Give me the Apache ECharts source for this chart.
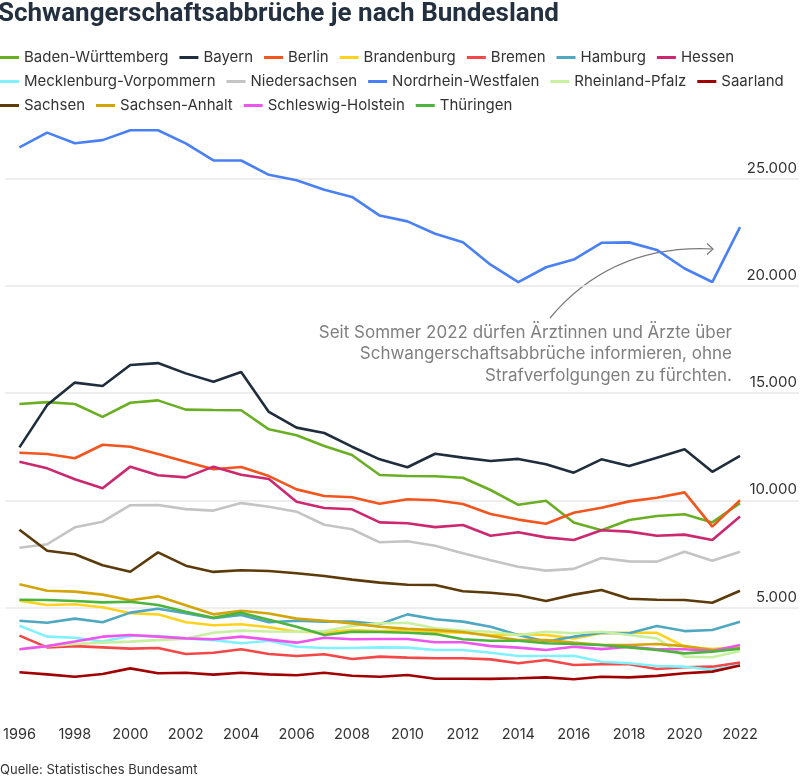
<!DOCTYPE html>
<html>
<head>
<meta charset="utf-8">
<script src="https://cdn.jsdelivr.net/npm/echarts@6/dist/echarts.min.js"></script>
<style>
html,body{margin:0;padding:0;background:#fff;}
#chart{width:800px;height:782px;}
</style>
</head>
<body>
<div id="chart"></div>
<script>
var years=['1996','1997','1998','1999','2000','2001','2002','2003','2004','2005','2006','2007','2008','2009','2010','2011','2012','2013','2014','2015','2016','2017','2018','2019','2020','2021','2022'];

var badenWuerttemberg=[14490,14580,14490,13890,14550,14660,14230,14210,14200,13310,13030,12530,12110,11180,11130,11120,11050,10480,9790,9980,8960,8600,9080,9270,9350,8970,9870];
var bayern=[12470,14440,15490,15330,16310,16400,15920,15530,15980,14120,13390,13140,12500,11910,11540,12170,11990,11830,11930,11680,11290,11910,11600,11990,12380,11330,12070];
var berlin=[12220,12160,11960,12590,12500,12160,11800,11450,11550,11130,10510,10200,10140,9840,10050,10000,9830,9360,9100,8910,9420,9650,9950,10120,10370,8770,10010];
var brandenburg=[5320,5120,5150,5010,4730,4680,4310,4170,4220,4080,3870,3840,3950,3900,3950,3860,3820,3720,3750,3720,3560,3800,3820,3820,3170,3060,3170];
var bremen=[3690,3140,3200,3140,3080,3110,2830,2890,3050,2830,2740,2820,2600,2710,2660,2630,2630,2580,2400,2550,2320,2350,2350,2130,2210,2240,2430];
var hamburg=[4380,4290,4480,4310,4760,4940,4730,4500,4650,4310,4380,4340,4340,4220,4680,4450,4340,4100,3720,3410,3640,3820,3800,4140,3900,3950,4340];
var hessen=[11800,11490,10980,10560,11570,11170,11070,11570,11190,10990,9930,9640,9580,8970,8930,8750,8850,8350,8510,8270,8150,8600,8540,8350,8400,8150,9240];
var mecklenburgVorpommern=[4150,3640,3590,3410,3670,3670,3560,3480,3330,3450,3170,3110,3110,3140,3130,3020,3020,2890,2740,2740,2750,2470,2400,2270,2240,2090,2320];
var niedersachsen=[7790,7950,8740,9000,9770,9780,9590,9520,9870,9700,9470,8860,8650,8040,8090,7880,7530,7200,6900,6720,6800,7310,7150,7140,7600,7180,7600];
var nordrheinWestfalen=[26460,27150,26650,26800,27260,27260,26650,25850,25850,25180,24930,24480,24150,23280,23010,22430,22040,20990,20180,20870,21230,22010,22030,21680,20810,20180,22740];
var rheinlandPfalz=[3050,3200,3300,3360,3410,3480,3550,3820,3920,3880,3870,3900,4140,4260,4290,4030,3920,3870,3720,3870,3800,3870,3720,3560,2710,2680,2970];
var saarland=[1980,1880,1770,1900,2160,1930,1960,1870,1960,1880,1840,1960,1820,1770,1850,1680,1680,1670,1700,1740,1650,1770,1740,1810,1930,2010,2290];
var sachsen=[8630,7650,7480,6970,6670,7570,6950,6660,6740,6700,6600,6470,6300,6160,6060,6050,5760,5690,5570,5300,5600,5820,5410,5360,5350,5220,5780];
var sachsenAnhalt=[6080,5780,5740,5600,5340,5520,5100,4680,4850,4720,4480,4380,4260,4100,4010,3950,3860,3670,3480,3480,3360,3250,3250,3300,3200,3020,3100];
var schleswigHolstein=[3050,3200,3410,3640,3720,3640,3560,3520,3640,3500,3360,3590,3520,3530,3530,3380,3380,3200,3130,3020,3170,3060,3170,3050,3050,2970,3250];
var thueringen=[5360,5350,5300,5240,5270,5120,4800,4520,4760,4430,4100,3720,3870,3860,3820,3760,3520,3450,3450,3330,3300,3250,3140,3020,2860,2940,3080];

var stateNames=['Baden-Württemberg','Bayern','Berlin','Brandenburg','Bremen','Hamburg','Hessen','Mecklenburg-Vorpommern','Niedersachsen','Nordrhein-Westfalen','Rheinland-Pfalz','Saarland','Sachsen','Sachsen-Anhalt','Schleswig-Holstein','Thüringen'];
var stateData=[badenWuerttemberg,bayern,berlin,brandenburg,bremen,hamburg,hessen,mecklenburgVorpommern,niedersachsen,nordrheinWestfalen,rheinlandPfalz,saarland,sachsen,sachsenAnhalt,schleswigHolstein,thueringen];
var stateColors=['#6aaf23','#1f2d3d','#f2551d','#ffd21f','#f44848','#4fa8c0','#cc2870','#80f2ff','#c4c4c4','#4a80f5','#c8f0a0','#a00000','#5c3a0a','#d4a50a','#ee55ee','#4cb43c'];

var yTicks=[5000,10000,15000,20000,25000];
var noteLines=['Seit Sommer 2022 dürfen Ärztinnen und Ärzte über','Schwangerschaftsabbrüche informieren, ohne','Strafverfolgungen zu fürchten.'];

window.onload=function(){
	chart1();
};

function fmt(v){
	return String(v).replace(/\B(?=(\d{3})+(?!\d))/g,'.');
}

function chart1(){
	var myChart = echarts.init(document.getElementById('chart'));
	var series=[];
	for(var i=0;i<stateNames.length;i++){
		series.push({
			name: stateNames[i],
			type: 'line',
			xAxisIndex:0,
			yAxisIndex:0,
			data: stateData[i],
			symbol:'none',
			smooth:false,
			color: stateColors[i],
			lineStyle:{width:2.6,color:stateColors[i]},
			emphasis:{disabled:true}
		});
	}
	// annotation lines, right aligned one by one
	var graphics=[];
	for(var j=0;j<noteLines.length;j++){
		graphics.push({
			type:'text',
			right:68,
			top:324+j*21.8,
			style:{text:noteLines[j],fill:'#7f7f7f',font:'17px Inter'}
		});
	}
	graphics.push({
		type:'bezierCurve',
		shape:{x1:550,y1:318,cpx1:612,cpy1:244,x2:713,y2:249},
		style:{stroke:'#7a7a7a',lineWidth:1.2,fill:null}
	});
	graphics.push({
		type:'polyline',
		shape:{points:[[707,243.5],[713,249],[707,254.5]]},
		style:{stroke:'#7a7a7a',lineWidth:1.2,fill:null}
	});
	graphics.push({
		type:'text',
		left:0,
		top:764,
		style:{text:'Quelle: Statistisches Bundesamt',fill:'#333',font:'13px Inter'}
	});

	var top=125.1, bottom=67.3;
	var option = {
		animation:false,
		backgroundColor:'#fff',
		textStyle:{fontFamily:'Inter'},
		title:{
			text:'Schwangerschaftsabbrüche je nach Bundesland',
			left:-2,
			top:1,
			padding:0,
			textStyle:{fontFamily:'Roboto',fontWeight:700,fontSize:26,color:'#233040'}
		},
		legend:{
			left:0,
			top:50,
			width:790,
			icon:'rect',
			itemWidth:19,
			itemHeight:3,
			itemGap:9,
			padding:0,
			textStyle:{fontSize:15,color:'#333',lineHeight:13,padding:[0,2,0,0]},
			data:stateNames
		},
		grid:[
			{left:16,right:60,top:top,bottom:bottom},
			{left:5,right:0,top:top,bottom:bottom}
		],
		xAxis:[
			{
				type:'category',
				gridIndex:0,
				data:years,
				boundaryGap:false,
				axisLine:{show:false},
				axisTick:{show:false},
				axisLabel:{interval:1,fontSize:14.5,color:'#333',margin:12}
			},
			{
				type:'value',
				gridIndex:1,
				show:false
			}
		],
		yAxis:[
			{
				type:'value',
				gridIndex:0,
				min:0,
				max:27500,
				show:false
			},
			{
				type:'value',
				gridIndex:1,
				position:'right',
				min:0,
				max:27500,
				interval:5000,
				axisLine:{show:false},
				axisTick:{show:false},
				splitLine:{show:true,showMinLine:false,showMaxLine:false,lineStyle:{color:'#e8e8e8',width:1.5}},
				axisLabel:{
					inside:true,
					align:'right',
					verticalAlign:'bottom',
					margin:2,
					padding:[0,0,3,0],
					fontSize:15,
					color:'#333',
					showMinLabel:false,
					showMaxLabel:false,
					formatter:function(v){ return yTicks.indexOf(v)>=0 ? fmt(v) : ''; }
				}
			}
		],
		graphic:graphics,
		series:series
	};
	myChart.setOption(option);
	window.addEventListener("resize",function() {
		myChart.resize();
	});
}
</script>
</body>
</html>
